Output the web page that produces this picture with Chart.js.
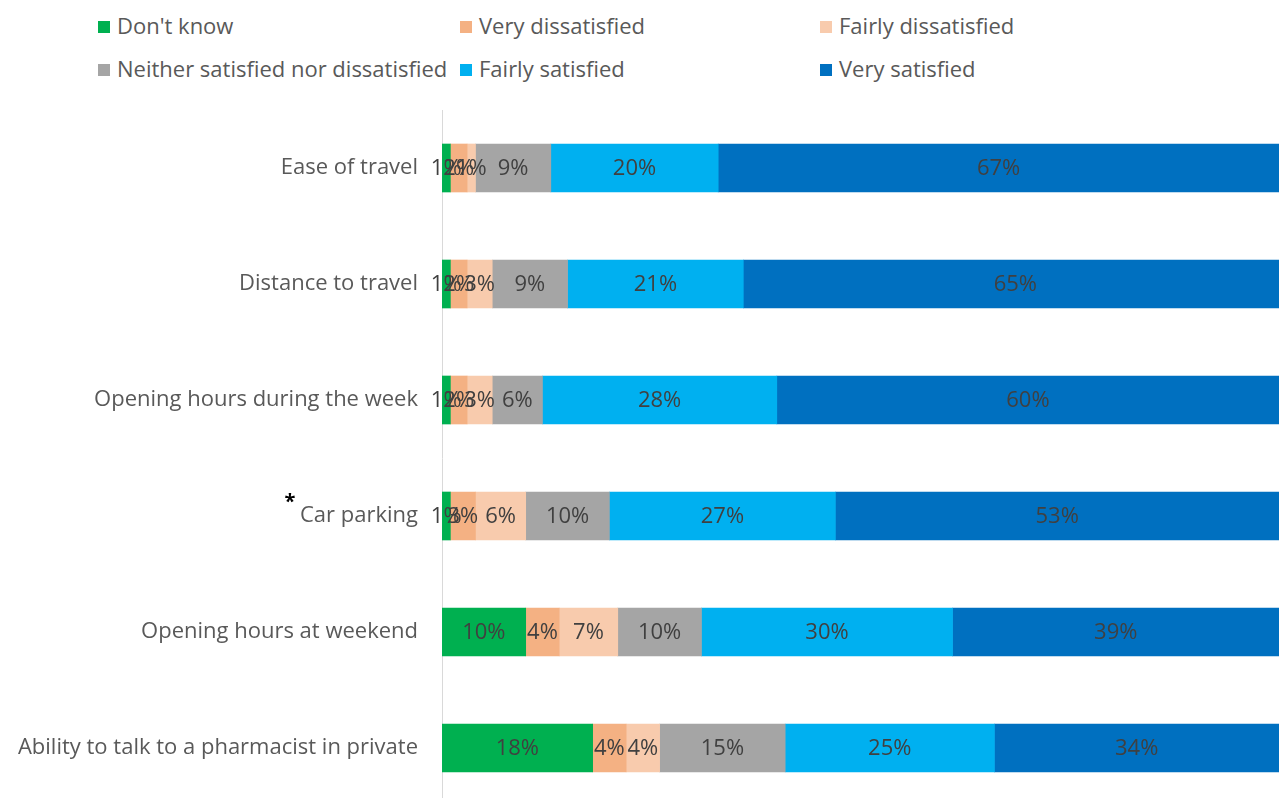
<!DOCTYPE html>
<html>
<head>
<meta charset="utf-8">
<script src="https://cdn.jsdelivr.net/npm/chart.js@4"></script>
<style>
  html, body { margin: 0; padding: 0; background: #fff; overflow: hidden; }
  #wrap { position: absolute; left: 0; top: 0; width: 1279px; height: 806px; }
  #legend { position: absolute; left: 0; top: 0; width: 1279px; font-family: "Open Sans", sans-serif; font-size: 22px; color: #595959; }
  .item { position: absolute; white-space: nowrap; }
  .box { display: inline-block; width: 12px; height: 12px; margin-right: 7px; vertical-align: 1px; }
</style>
</head>
<body>
<div id="legend"></div>
<div id="wrap"><canvas id="chart" width="1279" height="806"></canvas></div>
<script>
const categories = [
    'Ease of travel',
    'Distance to travel',
    'Opening hours during the week',
    'Car parking',
    'Opening hours at weekend',
    'Ability to talk to a pharmacist in private'
];
const seriesNames = ["Don't know", 'Very dissatisfied', 'Fairly dissatisfied',
    'Neither satisfied nor dissatisfied', 'Fairly satisfied', 'Very satisfied'];
const dontKnow = [1, 1, 1, 1, 10, 18];
const veryDissatisfied = [2, 2, 2, 3, 4, 4];
const fairlyDissatisfied = [1, 3, 3, 6, 7, 4];
const neither = [9, 9, 6, 10, 10, 15];
const fairlySatisfied = [20, 21, 28, 27, 30, 25];
const verySatisfied = [67, 65, 60, 53, 39, 34];
const colors = ['#00B050', '#F4B183', '#F8CBAD', '#A5A5A5', '#00B0F0', '#0070C0'];

const values = [dontKnow, veryDissatisfied, fairlyDissatisfied, neither, fairlySatisfied, verySatisfied];

// legend in 3 columns, 2 rows
const legendPos = [[98, 10], [460, 10], [820, 10], [98, 53], [460, 53], [820, 53]];
const legend = document.getElementById('legend');
seriesNames.forEach((name, i) => {
    const div = document.createElement('div');
    div.className = 'item';
    div.style.left = legendPos[i][0] + 'px';
    div.style.top = legendPos[i][1] + 'px';
    div.innerHTML = '<span class="box" style="background:' + colors[i] + '"></span>' + name;
    legend.appendChild(div);
});

const labelPlugin = {
    id: 'barLabels',
    afterDatasetsDraw(chart) {
        const ctx = chart.ctx;
        ctx.save();
        ctx.font = '22px "Open Sans", sans-serif';
        ctx.fillStyle = '#404040';
        ctx.textAlign = 'center';
        ctx.textBaseline = 'middle';
        chart.data.datasets.forEach((ds, i) => {
            const meta = chart.getDatasetMeta(i);
            meta.data.forEach((el, j) => {
                const x = (el.x + el.base) / 2;
                ctx.fillText(ds.data[j] + '%', x, el.y + 1);
            });
        });
        // asterisk next to Car parking
        const y = chart.scales.y.getPixelForValue(3);
        const w = ctx.measureText('Car parking').width;
        ctx.font = 'bold 20px "Open Sans", sans-serif';
        ctx.fillStyle = '#000';
        ctx.fillText('*', chart.chartArea.left - 24 - w - 10, y - 14);
        ctx.restore();
    }
};

const ctx = document.getElementById('chart').getContext('2d');
new Chart(ctx, {
    type: 'bar',
    data: {
        labels: categories,
        datasets: seriesNames.map((name, i) => ({
            label: name,
            data: values[i],
            backgroundColor: colors[i],
            borderWidth: 0,
            barThickness: 48
        }))
    },
    options: {
        indexAxis: 'y',
        responsive: false,
        animation: false,
        layout: { padding: { top: 110, left: 10, right: 0, bottom: 0 } },
        plugins: {
            legend: { display: false },
            tooltip: { enabled: false }
        },
        scales: {
            x: {
                stacked: true,
                min: 0,
                max: 100,
                display: false
            },
            y: {
                stacked: true,
                grid: { display: false, drawTicks: false },
                border: { display: true, color: '#d9d9d9', width: 1 },
                ticks: {
                    padding: 24,
                    color: '#595959',
                    font: { family: '"Open Sans", sans-serif', size: 22 }
                },
                afterFit(scale) {
                    scale.width = 432;
                    scale.paddingTop = 0;
                    scale.paddingBottom = 0;
                }
            }
        }
    },
    plugins: [labelPlugin]
});
</script>
</body>
</html>
